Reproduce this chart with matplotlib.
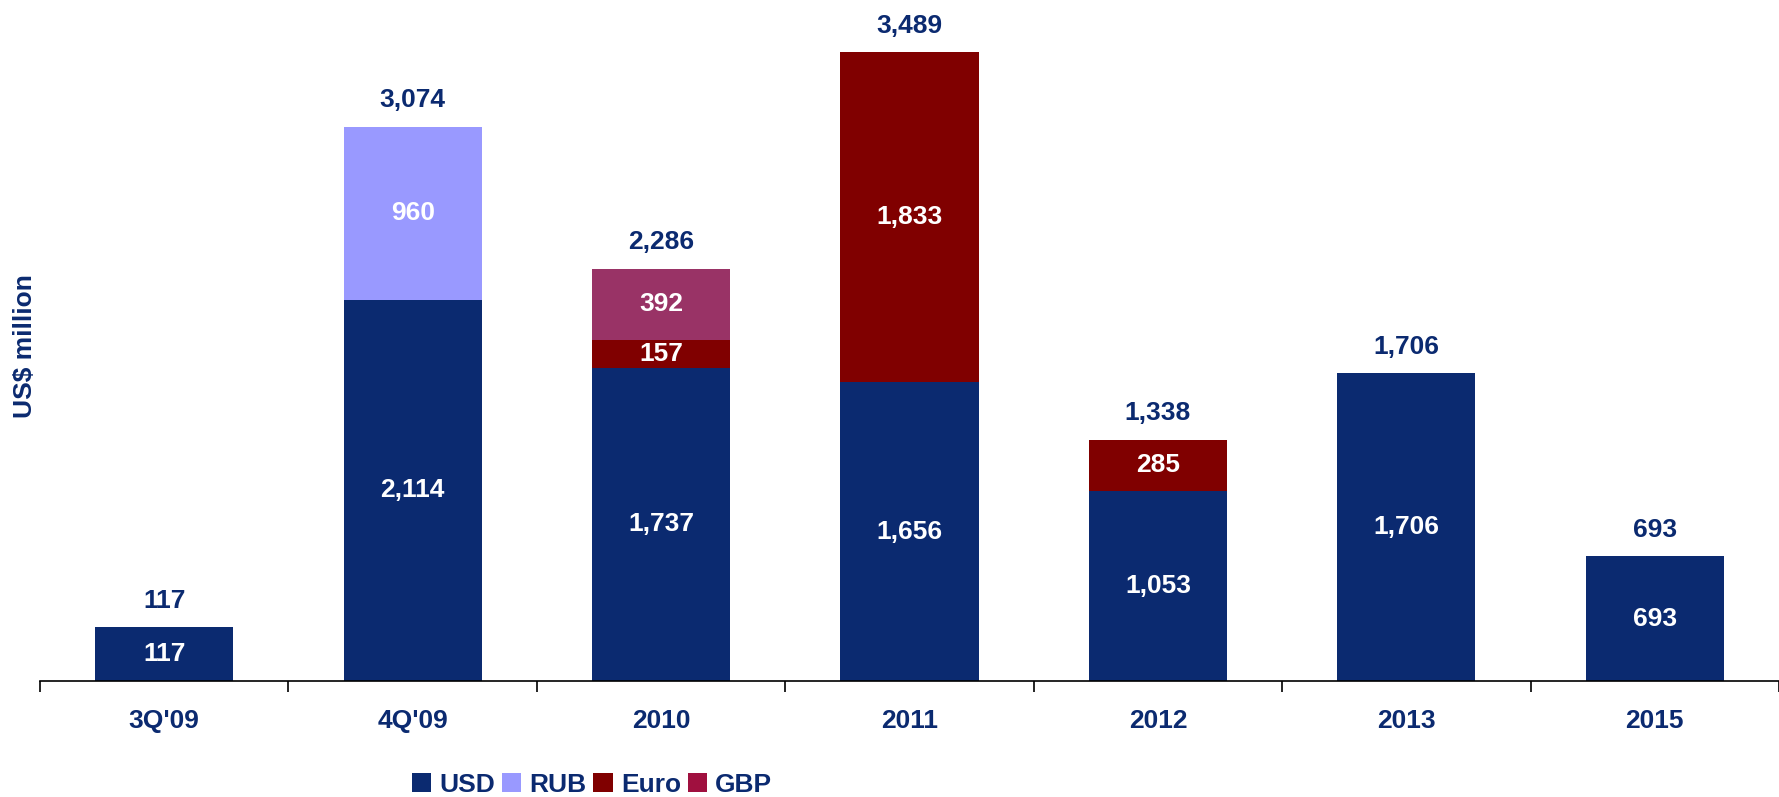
import matplotlib.pyplot as plt
import numpy as np
from matplotlib.patches import Patch

plt.rcParams['font.family'] = ['Liberation Sans', 'DejaVu Sans']

periods = ["3Q'09", "4Q'09", "2010", "2011", "2012", "2013", "2015"]
usd = [117, 2114, 1737, 1656, 1053, 1706, 693]
rub = [0, 960, 0, 0, 0, 0, 0]
euro = [0, 0, 157, 1833, 285, 0, 0]
gbp = [0, 0, 392, 0, 0, 0, 0]

navy = '#0B2A70'
series = [
    ('USD', usd, navy, navy),
    ('RUB', rub, '#9999FF', '#9999FF'),
    ('Euro', euro, '#800000', '#800000'),
    ('GBP', gbp, '#993366', '#A0103F'),
]

# tiny bars are drawn at a minimum height so the label fits inside
min_bar = 300
fs = 19

fig = plt.figure(figsize=(17.79, 7.97), dpi=100)
ax = fig.add_axes([40 / 1779, 1 - 681 / 797, 1 - 40 / 1779, 681 / 797])

x = np.arange(len(periods))
bottom = np.zeros(len(periods))
for name, vals, col, _ in series:
    vals = np.array(vals)
    drawn = np.where((vals > 0) & (vals < min_bar) & (bottom == 0), min_bar, vals)
    ax.bar(x, drawn, width=0.556, bottom=bottom, color=col, linewidth=0)
    for xi, b, v, d in zip(x, bottom, vals, drawn):
        if v > 0:
            ax.text(xi, b + d / 2, f'{v:,}', ha='center', va='center',
                    color='white', fontsize=fs, fontweight='bold')
    bottom += drawn

totals = np.sum([usd, rub, euro, gbp], axis=0)
for xi, top, t in zip(x, bottom, totals):
    ax.annotate(f'{int(t):,}', (xi, top), xytext=(0, 19), textcoords='offset points',
                ha='center', va='center', color=navy, fontsize=fs, fontweight='bold')

ax.set_xlim(-0.5, -0.5 + (1779 - 40) / 250)
ax.set_ylim(0, 681 / 0.1803)
ax.set_yticks([])
for s in ['top', 'right', 'left']:
    ax.spines[s].set_visible(False)
ax.spines['bottom'].set_color('black')
ax.spines['bottom'].set_linewidth(1.2)

ax.set_xticks(np.arange(-0.5, 7.0, 1.0), minor=False)
ax.set_xticklabels([])
ax.tick_params(axis='x', which='major', length=8, width=1.2, direction='out', color='black')
ax.set_xticks(x, minor=True)
ax.set_xticklabels(periods, minor=True)
ax.tick_params(axis='x', which='minor', length=0, pad=20, labelsize=fs, labelcolor=navy)
for lab in ax.get_xticklabels(minor=True):
    lab.set_fontweight('bold')

fig.text(25 / 1779, 1 - 346 / 797, 'US$ million', rotation=90, ha='center', va='center',
         color=navy, fontsize=fs, fontweight='bold')

handles = [Patch(facecolor=lc, edgecolor='none', label=name) for name, _, _, lc in series]
leg = fig.legend(handles=handles, loc='center', bbox_to_anchor=(592 / 1779, 1 - 785 / 797),
                 ncol=4, frameon=False, fontsize=fs, handlelength=0.75, handleheight=0.75,
                 handletextpad=0.3, columnspacing=0.25)
for t in leg.get_texts():
    t.set_color(navy)
    t.set_fontweight('bold')

fig.savefig('out.png', dpi=100)
